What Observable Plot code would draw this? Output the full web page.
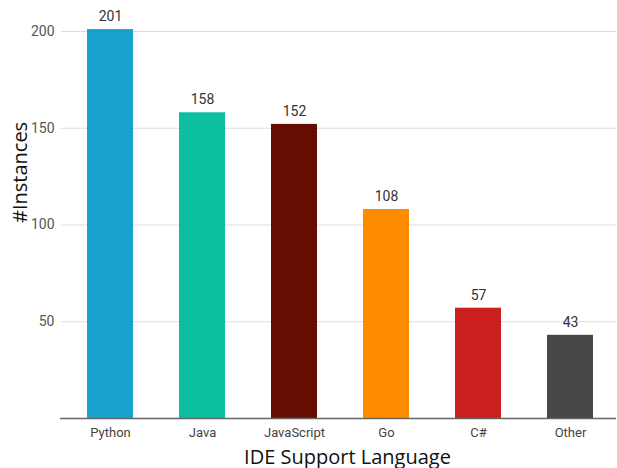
<!DOCTYPE html>
<html>
<head>
<meta charset="utf-8">
<script src="https://cdn.jsdelivr.net/npm/d3@7"></script>
<script src="https://cdn.jsdelivr.net/npm/@observablehq/plot@0.6"></script>
<style>
  body { margin: 0; background: #fff; }
  #chart svg { display: block; }
</style>
</head>
<body>
<div id="chart"></div>
<script>
const languages = ["Python", "Java", "JavaScript", "Go", "C#", "Other"];
const instances = [201, 158, 152, 108, 57, 43];
const colors = ["#1ba1cf", "#0bbf9f", "#660d02", "#ff8c00", "#cc1f1f", "#474747"];
const yTicks = [50, 100, 150, 200];

const data = languages.map((lang, i) => ({lang, value: instances[i], color: colors[i]}));

const chart = Plot.plot({
  width: 617,
  height: 468,
  marginLeft: 64,
  marginRight: 1,
  marginTop: 31,
  marginBottom: 50,
  style: {fontFamily: "Roboto", fontSize: "13px", background: "#fff"},
  x: {domain: languages, paddingInner: 0.5, paddingOuter: 0.25, label: null},
  y: {domain: [0, 200], label: null},
  marks: [
    Plot.gridY(yTicks, {stroke: "#ddd", strokeOpacity: 1, insetLeft: -3}),
    Plot.barY(data, {x: "lang", y: "value", fill: "color"}),
    Plot.ruleY([0], {stroke: "#666", strokeWidth: 1.5, insetLeft: -4}),
    Plot.text(data, {x: "lang", y: "value", text: d => String(d.value), dy: -13, fill: "#333", fontSize: 14}),
    Plot.axisY(yTicks, {tickSize: 0, tickPadding: 10, fontSize: 14, color: "#555", label: null}),
    Plot.axisX({tickSize: 0, tickPadding: 9, fontSize: 13, color: "#444", label: null}),
    Plot.text(["IDE Support Language"], {frameAnchor: "bottom", dy: 45, dx: 7, fontSize: 20, fill: "#111", fontFamily: "Open Sans"}),
    Plot.text(["#Instances"], {frameAnchor: "left", dx: -44, dy: -2, rotate: -90, fontSize: 20, fill: "#111", fontFamily: "Open Sans"})
  ]
});
document.getElementById("chart").appendChild(chart);
</script>
</body>
</html>
